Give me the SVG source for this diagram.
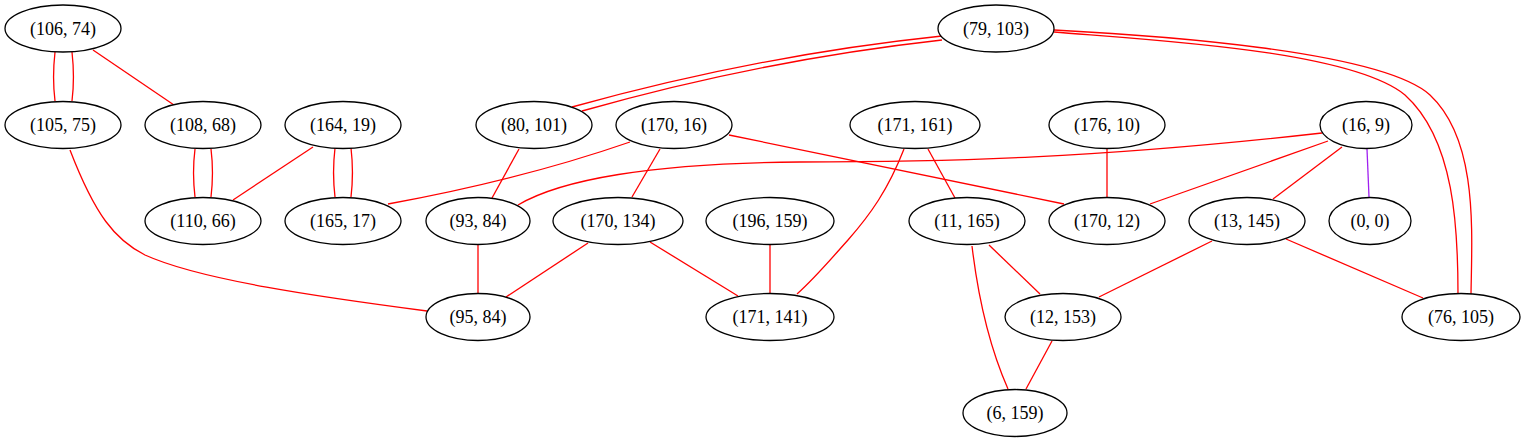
<svg xmlns="http://www.w3.org/2000/svg" width="1524" height="443" viewBox="0 0 1524 443">
<style>
.n ellipse{fill:#fff;stroke:#000;stroke-width:1.3}
.n text{font-family:"Liberation Serif","Times New Roman",serif;font-size:18px;text-anchor:middle;fill:#000}
.e path{fill:none;stroke:#f00;stroke-width:1.3}
.e path.p{stroke:#a020f0}
</style>
<rect width="1524" height="443" fill="#fff"/>
<g class="e" id="edges">
<path d="M55,52 C53,70 53,85 55,101"/>
<path d="M72,52 C74,70 74,85 72,101"/>
<path d="M93,50 L174,105"/>
<path d="M195,149 C193,165 193,180 195,197"/>
<path d="M211,149 C213,165 213,180 211,197"/>
<path d="M313,147 L233,200"/>
<path d="M335,148 C333,165 333,180 335,197"/>
<path d="M351,148 C353,165 353,180 351,197"/>
<path d="M70,150 C95,215 115,240 145,255 C200,280 320,297 427,311"/>
<path d="M942,36 Q760,55 572,107"/>
<path d="M942,40 Q762,60 582,111"/>
<path d="M1054,32 C1150,40 1350,50 1405,95 C1455,140 1458,230 1458,294"/>
<path d="M1054,30 C1150,35 1380,50 1430,95 C1478,140 1472,230 1471,294"/>
<path d="M519,149 L492,198"/>
<path d="M630,142 Q520,180 388,204"/>
<path d="M660,149 L632,197"/>
<path d="M729,135 L1064,204"/>
<path d="M928,149 L955,198"/>
<path d="M904,149 C888,190 870,215 848,240 C830,260 815,278 797,294"/>
<path d="M1107,149 L1107,197"/>
<path d="M1322,133 C1100,158 950,162 800,162 C650,163 560,180 518,205"/>
<path d="M1328,141 L1150,204"/>
<path d="M1342,147 L1273,199"/>
<path class="p" d="M1367,149 L1369,197"/>
<path d="M478,245 L478,293"/>
<path d="M588,243 L506,297"/>
<path d="M650,242 L738,296"/>
<path d="M770,245 L770,293"/>
<path d="M989,245 L1040,294"/>
<path d="M972,246 Q982,330 1008,389"/>
<path d="M1212,241 L1099,297"/>
<path d="M1286,239 L1423,298"/>
<path d="M1052,341 L1026,389"/>
</g>
<g class="n" id="n106_74"><ellipse cx="63" cy="28.5" rx="58" ry="23.5"/><text x="63" y="34.5">(106, 74)</text></g>
<g class="n" id="n79_103"><ellipse cx="996" cy="28.5" rx="58" ry="23.5"/><text x="996" y="34.5">(79, 103)</text></g>
<g class="n" id="n105_75"><ellipse cx="63" cy="125" rx="58" ry="23.5"/><text x="63" y="131">(105, 75)</text></g>
<g class="n" id="n108_68"><ellipse cx="203" cy="125" rx="58" ry="23.5"/><text x="203" y="131">(108, 68)</text></g>
<g class="n" id="n164_19"><ellipse cx="343" cy="125" rx="58" ry="23.5"/><text x="343" y="131">(164, 19)</text></g>
<g class="n" id="n80_101"><ellipse cx="534" cy="125" rx="58" ry="23.5"/><text x="534" y="131">(80, 101)</text></g>
<g class="n" id="n170_16"><ellipse cx="674" cy="125" rx="58" ry="23.5"/><text x="674" y="131">(170, 16)</text></g>
<g class="n" id="n171_161"><ellipse cx="915" cy="125" rx="65" ry="23.5"/><text x="915" y="131">(171, 161)</text></g>
<g class="n" id="n176_10"><ellipse cx="1107" cy="125" rx="58" ry="23.5"/><text x="1107" y="131">(176, 10)</text></g>
<g class="n" id="n16_9"><ellipse cx="1366" cy="125" rx="46" ry="23.5"/><text x="1366" y="131">(16, 9)</text></g>
<g class="n" id="n110_66"><ellipse cx="203" cy="221" rx="58" ry="23.5"/><text x="203" y="227">(110, 66)</text></g>
<g class="n" id="n165_17"><ellipse cx="343" cy="221" rx="58" ry="23.5"/><text x="343" y="227">(165, 17)</text></g>
<g class="n" id="n93_84"><ellipse cx="478" cy="221" rx="52" ry="23.5"/><text x="478" y="227">(93, 84)</text></g>
<g class="n" id="n170_134"><ellipse cx="618" cy="221" rx="65" ry="23.5"/><text x="618" y="227">(170, 134)</text></g>
<g class="n" id="n196_159"><ellipse cx="770" cy="221" rx="64" ry="23.5"/><text x="770" y="227">(196, 159)</text></g>
<g class="n" id="n11_165"><ellipse cx="967" cy="221" rx="58" ry="23.5"/><text x="967" y="227">(11, 165)</text></g>
<g class="n" id="n170_12"><ellipse cx="1107" cy="221" rx="58" ry="23.5"/><text x="1107" y="227">(170, 12)</text></g>
<g class="n" id="n13_145"><ellipse cx="1247" cy="221" rx="58" ry="23.5"/><text x="1247" y="227">(13, 145)</text></g>
<g class="n" id="n0_0"><ellipse cx="1370" cy="221" rx="41" ry="23.5"/><text x="1370" y="227">(0, 0)</text></g>
<g class="n" id="n95_84"><ellipse cx="478" cy="317" rx="52" ry="23.5"/><text x="478" y="323">(95, 84)</text></g>
<g class="n" id="n171_141"><ellipse cx="770" cy="317" rx="64" ry="23.5"/><text x="770" y="323">(171, 141)</text></g>
<g class="n" id="n12_153"><ellipse cx="1063" cy="317" rx="58" ry="23.5"/><text x="1063" y="323">(12, 153)</text></g>
<g class="n" id="n76_105"><ellipse cx="1461" cy="317" rx="59" ry="23.5"/><text x="1461" y="323">(76, 105)</text></g>
<g class="n" id="n6_159"><ellipse cx="1015" cy="413" rx="52" ry="23.5"/><text x="1015" y="419">(6, 159)</text></g>
</svg>
